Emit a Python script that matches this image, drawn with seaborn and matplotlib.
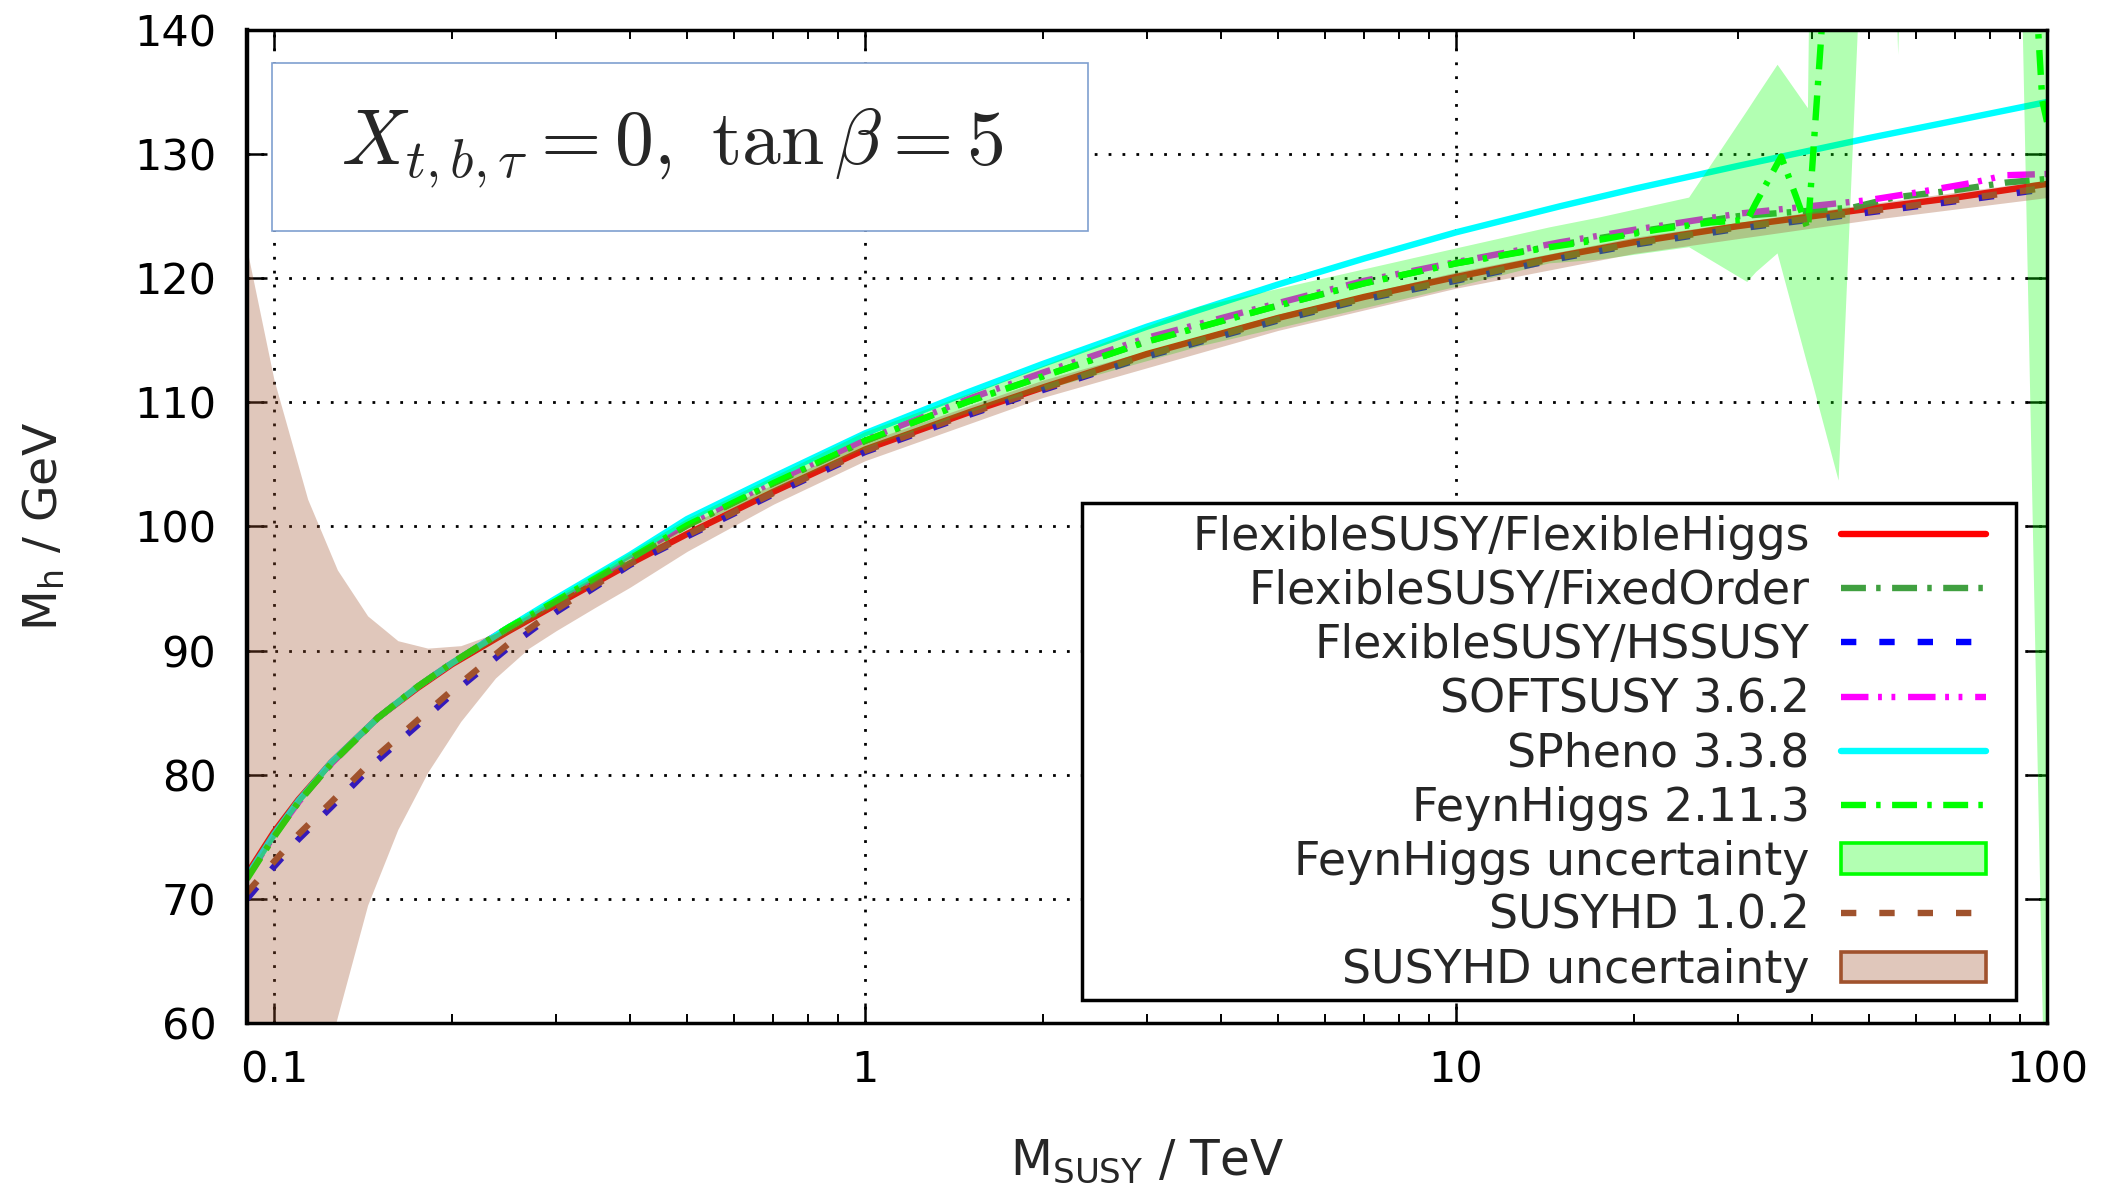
import numpy as np
import pandas as pd
import matplotlib
matplotlib.use("Agg")
import matplotlib.pyplot as plt
import seaborn as sns
from matplotlib.lines import Line2D
from matplotlib.patches import Patch, Rectangle
from matplotlib.ticker import FixedLocator, FixedFormatter, LogLocator, NullFormatter

sns.set_theme(style="white")
plt.rcParams["font.family"] = ["DejaVu Sans"]

# ---------------- data (M_SUSY in TeV, M_h in GeV) ----------------
fh_x = [0.09, 0.1, 0.11, 0.125, 0.15, 0.175, 0.2, 0.25, 0.3, 0.4, 0.5, 0.7, 1, 1.5, 2, 3, 5, 7, 10, 15, 20, 30, 50, 70, 100]
fh_y = [72.0, 75.4, 78.0, 81.0, 84.6, 87.0, 88.9, 91.6, 93.7, 97.0, 99.4, 102.8, 106.2, 109.2, 111.2, 113.9, 116.8, 118.5, 120.1, 121.8, 122.9, 124.2, 125.6, 126.5, 127.6]

fo_x = [0.09, 0.1, 0.11, 0.125, 0.15, 0.175, 0.2, 0.25, 0.3, 0.4, 0.5, 0.7, 1, 1.5, 2, 3, 5, 7, 10, 15, 20, 30, 47, 55, 70, 85, 100]
fo_y = [71.7, 75.1, 77.8, 80.9, 84.6, 87.1, 89.0, 91.9, 94.0, 97.4, 100.1, 103.5, 106.9, 110.1, 112.1, 114.9, 117.8, 119.6, 121.2, 122.7, 123.7, 125.0, 125.7, 126.5, 127.1, 127.7, 128.0]

hs_x = [0.09, 0.1, 0.11, 0.125, 0.15, 0.175, 0.2, 0.25, 0.3, 0.4, 0.5, 0.7, 1, 1.5, 2, 3, 5, 7, 10, 15, 20, 30, 50, 70, 100]
hs_y = [70.0, 72.6, 74.8, 77.4, 81.2, 84.0, 86.5, 90.3, 93.1, 96.9, 99.2, 102.6, 106.0, 109.0, 111.0, 113.7, 116.6, 118.3, 119.8, 121.6, 122.7, 124.0, 125.3, 126.2, 127.2]

ss_x = [0.09, 0.1, 0.11, 0.125, 0.15, 0.175, 0.2, 0.25, 0.3, 0.4, 0.5, 0.7, 1, 1.5, 2, 3, 5, 7, 10, 15, 20, 30, 50, 60, 75, 85, 100]
ss_y = [71.8, 75.1, 77.8, 80.9, 84.6, 87.1, 89.0, 91.9, 94.1, 97.5, 100.2, 103.6, 107.0, 110.3, 112.4, 115.2, 118.0, 119.8, 121.3, 122.9, 123.9, 125.2, 126.3, 126.9, 127.7, 128.3, 128.4]

sp_x = [0.09, 0.1, 0.11, 0.125, 0.15, 0.175, 0.2, 0.25, 0.3, 0.4, 0.5, 0.7, 1, 1.5, 2, 3, 5, 7, 10, 15, 20, 30, 50, 70, 100]
sp_y = [71.8, 75.2, 77.9, 81.0, 84.6, 87.1, 89.0, 91.9, 94.2, 97.7, 100.6, 104.0, 107.5, 110.85, 113.1, 116.1, 119.5, 121.6, 123.7, 125.8, 127.2, 129.05, 131.3, 132.7, 134.2]

fy_x = [0.09, 0.1, 0.11, 0.125, 0.15, 0.175, 0.2, 0.25, 0.3, 0.4, 0.5, 0.7, 1, 1.5, 2, 3, 5, 7, 10, 14.4, 17.5, 21.8, 27, 31.1, 32.2, 35.5, 37.6, 39.4, 41.7, 43, 60, 90, 95, 96.6, 98.2, 100]
fy_y = [71.6, 75.0, 77.8, 80.9, 84.6, 87.1, 89.0, 91.9, 94.0, 97.4, 100.1, 103.5, 106.9, 110.1, 112.1, 114.9, 117.8, 119.6, 121.2, 122.5, 123.1, 123.9, 124.5, 124.7, 126.1, 129.8, 126.6, 123.9, 141.0, 150.0, 160.0, 160.0, 150.0, 140.0, 134.3, 132.6]

fyb_x = [0.09, 0.1, 0.11, 0.125, 0.15, 0.175, 0.2, 0.3, 0.5, 1, 1.69, 3.68, 10, 14.4, 17.5, 24.8, 31.1, 32.2, 35.0, 39.4, 40.0, 44.4, 47.9, 50, 55, 56, 57, 90, 91, 98.4, 100]
fyb_lo = [71.3, 74.7, 77.5, 80.6, 84.3, 86.8, 88.7, 93.6, 99.8, 106.3, 110.0, 114.5, 119.3, 121.2, 121.5, 122.5, 119.7, 120.5, 122.0, 112.9, 111.8, 103.7, 140.5, 150, 150, 138, 150, 150, 140, 60, 50]
fyb_hi = [71.9, 75.3, 78.1, 81.2, 84.9, 87.4, 89.3, 94.3, 100.6, 107.6, 111.6, 117.7, 122.4, 124.1, 124.9, 126.5, 133.5, 134.6, 137.2, 133.7, 160, 160, 160, 160, 160, 160, 160, 160, 160, 160, 160]

sh_x = [0.09, 0.1, 0.11, 0.125, 0.15, 0.175, 0.2, 0.25, 0.3, 0.4, 0.5, 0.7, 1, 1.5, 2, 3, 5, 7, 10, 15, 20, 30, 50, 70, 100]
sh_y = [70.5, 73.0, 75.2, 77.8, 81.6, 84.4, 86.8, 90.6, 93.3, 97.0, 99.3, 102.7, 106.1, 109.1, 111.1, 113.8, 116.7, 118.4, 119.9, 121.7, 122.8, 124.1, 125.4, 126.3, 127.3]

shb_x = [0.09, 0.1, 0.114, 0.128, 0.144, 0.162, 0.182, 0.207, 0.237, 0.27, 0.3, 0.35, 0.4, 0.5, 0.7, 1, 2, 5, 10, 20, 50, 100]
shb_lo = [34, 42, 51, 60.5, 69.5, 75.6, 80.2, 84.3, 87.8, 90.2, 91.6, 93.5, 95.1, 98.0, 101.8, 105.3, 110.4, 115.8, 119.2, 122.0, 124.7, 126.5]
shb_hi = [122.3, 111.8, 102.2, 96.5, 92.8, 90.8, 90.2, 90.4, 91.4, 92.9, 94.2, 96.0, 97.7, 100.1, 103.4, 106.8, 111.8, 117.1, 120.5, 123.3, 126.0, 127.9]

labels = ["FlexibleSUSY/FlexibleHiggs", "FlexibleSUSY/FixedOrder", "FlexibleSUSY/HSSUSY",
          "SOFTSUSY 3.6.2", "SPheno 3.3.8", "FeynHiggs 2.11.3", "FeynHiggs uncertainty",
          "SUSYHD 1.0.2", "SUSYHD uncertainty"]
x_ticks = [0.1, 1, 10, 100]
x_ticklabels = ["0.1", "1", "10", "100"]
y_ticks = [60, 70, 80, 90, 100, 110, 120, 130, 140]

# ---------------- styles ----------------
LW = 4.6
C_RED, C_FO, C_BLUE, C_MAG, C_CYAN, C_FY, C_SH = "#ff0000", "#40a040", "#0000ff", "#ff00ff", "#00ffff", "#00ff00", "#a0522d"
LS_FO = (0, (3.9, 1.6, 0.7, 1.8))
LS_DASH = (0, (2.4, 3.6))
LS_SS = (0, (4.3, 1.5, 0.6, 1.5, 0.6, 2.0))
LS_FY = (0, (3.9, 1.6, 0.7, 1.8))

fig = plt.figure(figsize=(21.04, 11.91), dpi=100)
ax = fig.add_axes([247 / 2104, 1 - 1023 / 1191, 1800 / 2104, 993 / 1191])


def draw(x, y, color, ls):
    df = pd.DataFrame({"M": x, "Mh": y})
    sns.lineplot(data=df, x="M", y="Mh", ax=ax, color=color, linewidth=LW, linestyle=ls,
                 errorbar=None, estimator=None, sort=False, legend=False, zorder=2)


draw(fh_x, fh_y, C_RED, "-")
draw(fo_x, fo_y, C_FO, LS_FO)
draw(hs_x, hs_y, C_BLUE, LS_DASH)
draw(ss_x, ss_y, C_MAG, LS_SS)
draw(sp_x, sp_y, C_CYAN, "-")
draw(fy_x, fy_y, C_FY, LS_FY)
ax.fill_between(fyb_x, fyb_lo, fyb_hi, color=C_FY, alpha=0.3, linewidth=0, zorder=3)
draw(sh_x, sh_y, C_SH, LS_DASH)
ax.fill_between(shb_x, shb_lo, shb_hi, color=C_SH, alpha=0.32, linewidth=0, zorder=3)

ax.set_xscale("log")
ax.set_xlim(0.09, 100)
ax.set_ylim(60, 140)
ax.xaxis.set_major_locator(FixedLocator(x_ticks))
ax.xaxis.set_major_formatter(FixedFormatter(x_ticklabels))
ax.xaxis.set_minor_locator(LogLocator(base=10, subs=range(2, 10)))
ax.xaxis.set_minor_formatter(NullFormatter())
ax.yaxis.set_major_locator(FixedLocator(y_ticks))

ax.tick_params(which="both", direction="in", top=True, right=True, bottom=True, left=True, colors="black")
ax.tick_params(which="major", length=14.4, width=1.8, labelsize=31)
ax.tick_params(which="minor", length=6.5, width=1.4)
ax.tick_params(axis="x", which="major", pad=19)
ax.tick_params(axis="y", which="major", pad=22)

ax.set_axisbelow(True)
ax.grid(True, which="major", color="black", linestyle=(0, (1, 4)), linewidth=2.0)
ax.grid(False, which="minor")

for s in ax.spines.values():
    s.set_color("black")
    s.set_linewidth(2.5)
    s.set_zorder(30)
ax.spines["left"].set_linewidth(3.2)

ax.set_xlabel(r"$\mathregular{M_{SUSY}}$ / TeV", fontsize=35, labelpad=33, math_fontfamily="dejavusans")
ax.set_ylabel(r"$\mathregular{M_h}$ / GeV", fontsize=34, labelpad=48, math_fontfamily="dejavusans")

# annotation box
ax.add_patch(Rectangle((0.0139, 0.7976), 0.4533, 0.1692, transform=ax.transAxes,
                       facecolor="white", edgecolor="#7f9fd0", linewidth=1.2, zorder=10))
ax.text(0.236, 0.865, r"$X_{t,b,\tau} = 0,\ \tan\beta = 5$", transform=ax.transAxes,
        ha="center", va="baseline", fontsize=56, math_fontfamily="cm", zorder=11)

# legend
ax.add_patch(Rectangle((0.4639, 0.0232), 0.5189, 0.5005, transform=ax.transAxes,
                       facecolor="white", edgecolor="black", linewidth=2.5, zorder=10))
handles = [
    Line2D([], [], color=C_RED, lw=LW, linestyle="-"),
    Line2D([], [], color=C_FO, lw=LW, linestyle=LS_FO),
    Line2D([], [], color=C_BLUE, lw=LW, linestyle=LS_DASH),
    Line2D([], [], color=C_MAG, lw=LW, linestyle=LS_SS),
    Line2D([], [], color=C_CYAN, lw=LW, linestyle="-"),
    Line2D([], [], color=C_FY, lw=LW, linestyle=LS_FY),
    Patch(facecolor=(0, 1, 0, 0.3), edgecolor=C_FY, linewidth=2.6),
    Line2D([], [], color=C_SH, lw=LW, linestyle=LS_DASH),
    Patch(facecolor=(160 / 255, 82 / 255, 45 / 255, 0.32), edgecolor=C_SH, linewidth=2.6),
]
leg = ax.legend(handles, labels, loc="lower right", bbox_to_anchor=(0.970, 0.0232),
                frameon=False, fontsize=33, markerfirst=False, handlelength=3.17,
                handleheight=0.65, handletextpad=0.68, labelspacing=0.2,
                borderpad=0.15, borderaxespad=0)
leg.set_zorder(20)

fig.savefig("out.png", dpi=100)
